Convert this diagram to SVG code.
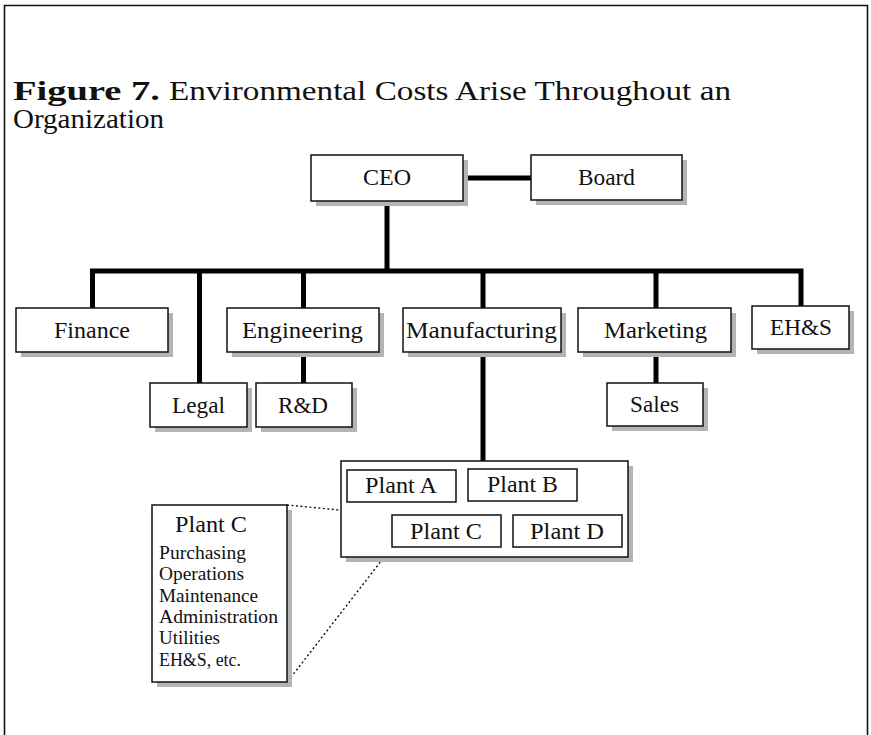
<svg xmlns="http://www.w3.org/2000/svg" width="871" height="735" viewBox="0 0 871 735">
  <defs>
    <style>
      .frame { fill: none; stroke: #111; stroke-width: 1.6; }
      .box { fill: #fff; stroke: #111; stroke-width: 1.5; }
      .shadow { fill: #b4b4b4; }
      .bar { fill: none; stroke: #000; stroke-width: 5; stroke-linejoin: miter; stroke-linecap: butt; }
      .dots { fill: none; stroke: #111; stroke-width: 1.4; stroke-dasharray: 2 2.5; }
      text { font-family: "Liberation Serif", "DejaVu Serif", serif; fill: #111; }
      .title { font-size: 28px; }
      .title-b { font-size: 28px; font-weight: bold; }
      .lbl { font-size: 23px; }
      .item { font-size: 19.5px; }
    </style>
  </defs>

  <rect width="871" height="735" fill="#fff"/>

  <!-- outer frame: top, left and right rules, open at the bottom -->
  <path class="frame" d="M4.5,735 V5.5 H867.5 V735"/>

  <!-- heading -->
  <text class="title-b" x="13" y="100" textLength="147" lengthAdjust="spacingAndGlyphs">Figure 7.</text>
  <text class="title" x="169" y="100" textLength="562" lengthAdjust="spacingAndGlyphs">Environmental Costs Arise Throughout an</text>
  <text class="title" x="13" y="128" textLength="151" lengthAdjust="spacingAndGlyphs">Organization</text>

  <!-- reporting lines -->
  <g id="connectors">
    <path class="bar" d="M463,178 H531"/>
    <path class="bar" d="M387,201 V271"/>
    <path class="bar" d="M92.5,308 V271 H801 V306"/>
    <path class="bar" d="M199.5,271 V383"/>
    <path class="bar" d="M303.5,271 V308 M303.5,352 V383"/>
    <path class="bar" d="M483,271 V308 M483,352 V461"/>
    <path class="bar" d="M656,271 V308 M656,352 V383"/>
    <path class="dots" d="M287,505 L392,515"/>
    <path class="dots" d="M288,681 L392,547"/>
  </g>

  <g id="ceo">
    <rect class="shadow" x="316" y="160" width="152" height="46"/>
    <rect class="box" x="311" y="155" width="152" height="46"/>
    <text class="lbl" x="363" y="185" textLength="48" lengthAdjust="spacingAndGlyphs">CEO</text>
  </g>
  <g id="board">
    <rect class="shadow" x="536" y="160" width="151" height="45"/>
    <rect class="box" x="531" y="155" width="151" height="45"/>
    <text class="lbl" x="578" y="185" textLength="57" lengthAdjust="spacingAndGlyphs">Board</text>
  </g>

  <g id="finance">
    <rect class="shadow" x="21" y="313" width="152" height="44"/>
    <rect class="box" x="16" y="308" width="152" height="44"/>
    <text class="lbl" x="54" y="338" textLength="76" lengthAdjust="spacingAndGlyphs">Finance</text>
  </g>
  <g id="engineering">
    <rect class="shadow" x="232" y="313" width="152" height="44"/>
    <rect class="box" x="227" y="308" width="152" height="44"/>
    <text class="lbl" x="242" y="338" textLength="121" lengthAdjust="spacingAndGlyphs">Engineering</text>
  </g>
  <g id="manufacturing">
    <rect class="shadow" x="408" y="313" width="158" height="44"/>
    <rect class="box" x="403" y="308" width="158" height="44"/>
    <text class="lbl" x="406" y="338" textLength="151" lengthAdjust="spacingAndGlyphs">Manufacturing</text>
  </g>
  <g id="marketing">
    <rect class="shadow" x="583" y="313" width="153" height="44"/>
    <rect class="box" x="578" y="308" width="153" height="44"/>
    <text class="lbl" x="604" y="338" textLength="103" lengthAdjust="spacingAndGlyphs">Marketing</text>
  </g>
  <g id="ehs">
    <rect class="shadow" x="757" y="311" width="97" height="43"/>
    <rect class="box" x="752" y="306" width="97" height="43"/>
    <text class="lbl" x="770" y="335" textLength="62" lengthAdjust="spacingAndGlyphs">EH&amp;S</text>
  </g>

  <g id="legal">
    <rect class="shadow" x="155" y="388" width="97" height="44"/>
    <rect class="box" x="150" y="383" width="97" height="44"/>
    <text class="lbl" x="172" y="413" textLength="53" lengthAdjust="spacingAndGlyphs">Legal</text>
  </g>
  <g id="rnd">
    <rect class="shadow" x="261" y="388" width="96" height="44"/>
    <rect class="box" x="256" y="383" width="96" height="44"/>
    <text class="lbl" x="278" y="413" textLength="50" lengthAdjust="spacingAndGlyphs">R&amp;D</text>
  </g>
  <g id="sales">
    <rect class="shadow" x="612" y="388" width="96" height="43"/>
    <rect class="box" x="607" y="383" width="96" height="43"/>
    <text class="lbl" x="630" y="412" textLength="49" lengthAdjust="spacingAndGlyphs">Sales</text>
  </g>

  <g id="plants">
    <rect class="shadow" x="346" y="466" width="287" height="96"/>
    <rect class="box" x="341" y="461" width="287" height="96"/>
    <g id="plant-a">
      <rect class="box" x="347" y="470" width="109" height="32"/>
      <text class="lbl" x="365" y="493" textLength="72" lengthAdjust="spacingAndGlyphs">Plant A</text>
    </g>
    <g id="plant-b">
      <rect class="box" x="468" y="469" width="109" height="32"/>
      <text class="lbl" x="487" y="492" textLength="71" lengthAdjust="spacingAndGlyphs">Plant B</text>
    </g>
    <g id="plant-c">
      <rect class="box" x="392" y="515" width="109" height="32"/>
      <text class="lbl" x="410" y="539" textLength="72" lengthAdjust="spacingAndGlyphs">Plant C</text>
    </g>
    <g id="plant-d">
      <rect class="box" x="513" y="515" width="109" height="32"/>
      <text class="lbl" x="530" y="539" textLength="74" lengthAdjust="spacingAndGlyphs">Plant D</text>
    </g>
  </g>

  <g id="plant-c-detail">
    <rect class="shadow" x="157" y="510" width="135" height="177"/>
    <rect class="box" x="152" y="505" width="135" height="177"/>
    <text class="lbl" x="175" y="532" textLength="72" lengthAdjust="spacingAndGlyphs">Plant C</text>
    <text class="item" x="159" y="559" textLength="87" lengthAdjust="spacingAndGlyphs">Purchasing</text>
    <text class="item" x="159" y="580" textLength="85" lengthAdjust="spacingAndGlyphs">Operations</text>
    <text class="item" x="159" y="601.5" textLength="99" lengthAdjust="spacingAndGlyphs">Maintenance</text>
    <text class="item" x="159" y="623" textLength="119" lengthAdjust="spacingAndGlyphs">Administration</text>
    <text class="item" x="159" y="644" textLength="61" lengthAdjust="spacingAndGlyphs">Utilities</text>
    <text class="item" x="159" y="665.5" textLength="82" lengthAdjust="spacingAndGlyphs">EH&amp;S, etc.</text>
  </g>
</svg>
